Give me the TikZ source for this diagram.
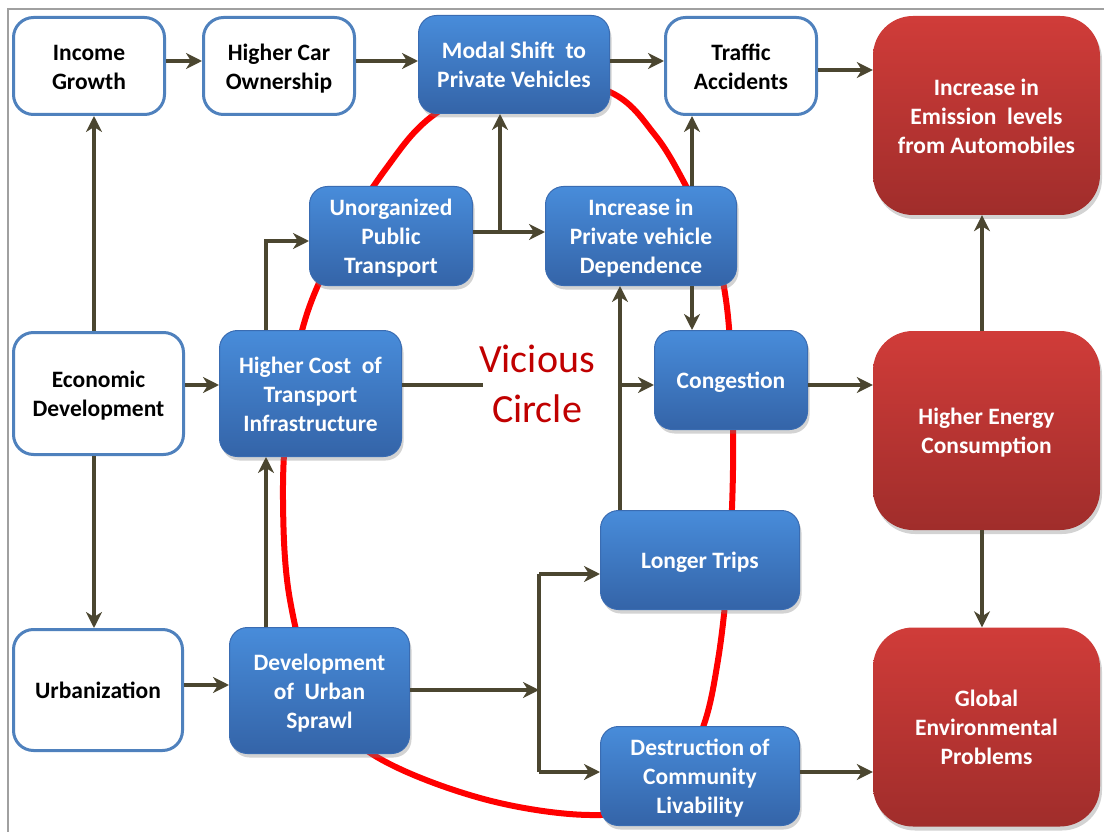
\documentclass[tikz,border=0pt]{standalone}
\usepackage{fontspec}
\setmainfont{Carlito}
\usetikzlibrary{arrows.meta,shadows}
\definecolor{arrc}{RGB}{75,70,48}
\definecolor{wbord}{RGB}{79,129,189}
\definecolor{btop}{RGB}{72,140,218}
\definecolor{bbot}{RGB}{52,100,168}
\definecolor{bbord}{RGB}{58,108,178}
\definecolor{rtop}{RGB}{208,60,57}
\definecolor{rbot}{RGB}{160,45,43}
\definecolor{vcred}{RGB}{192,0,0}
\definecolor{framegray}{RGB}{160,160,160}
\newcommand{\boxtxt}[1]{\raisebox{-3pt}[\height][\depth]{\begin{tabular}{@{}c@{}}#1\end{tabular}}}
\begin{document}
\begin{tikzpicture}[x=1pt,y=-1pt,
  box/.style={rounded corners=18pt, align=center, inner sep=0pt,
    font=\bfseries\fontsize{23.5}{29}\selectfont},
  wbox/.style={box, draw=wbord, line width=3pt, fill=white, text=black, rounded corners=20pt},
  bbox/.style={box, draw=bbord, line width=1pt, top color=btop, bottom color=bbot, text=white,
    drop shadow={shadow xshift=2pt, shadow yshift=-4pt, opacity=0.35}},
  rbox/.style={box, top color=rtop, bottom color=rbot, text=white, rounded corners=40pt,
    minimum width=227pt, minimum height=199pt,
    drop shadow={shadow xshift=2pt, shadow yshift=-4pt, opacity=0.35}},
  conn/.style={draw=arrc, line width=4pt},
  arr/.style={conn, -{Stealth[length=16pt,width=16pt,inset=5pt]}},
  loop/.style={draw=red, line width=6pt},
  vctext/.style={text=vcred, font=\fontsize{40}{50}\selectfont, inner sep=0pt, anchor=base}
]
\useasboundingbox (0,0) rectangle (1104,832);
\draw[framegray, line width=1.5pt] (8,832) -- (8,9) -- (1104,9);

% vicious circle loop
\draw[loop] plot[smooth cycle, tension=0.6] coordinates {
  (520,72) (610,92) (655,135) (686,186) (712,240) (726,300) (732,380)
  (733,470) (729,560) (718,660) (700,735) (660,800) (590,815) (480,798) (372,754)
  (318,695) (290,600) (283,500) (288,410) (305,320) (338,245) (385,170) (435,114)};

% nodes
\node[wbox, minimum width=151pt, minimum height=97pt] (inc) at (89,66) {\boxtxt{Income\\Growth}};
\node[wbox, minimum width=151pt, minimum height=97pt] (car) at (279,66) {\boxtxt{Higher Car\\Ownership}};
\node[bbox, minimum width=191pt, minimum height=98pt] (mod) at (514,64.5) {\boxtxt{Modal Shift\ \ to\\Private Vehicles}};
\node[wbox, minimum width=151pt, minimum height=97pt] (tra) at (741,66) {\boxtxt{Traffic\\Accidents}};
\node[rbox] (emi) at (986.5,115.5) {\boxtxt{Increase in\\Emission\ \ levels\\from Automobiles}};
\node[bbox, minimum width=163pt, minimum height=99pt] (unp) at (391,236) {\boxtxt{Unorganized\\Public\\Transport}};
\node[bbox, minimum width=191pt, minimum height=99pt] (ipv) at (641,236) {\boxtxt{Increase in\\Private vehicle\\Dependence}};
\node[wbox, minimum width=170pt, minimum height=122pt] (eco) at (98.5,393.5) {\boxtxt{Economic\\Development}};
\node[bbox, minimum width=182pt, minimum height=126pt] (hct) at (310.5,393.5) {\boxtxt{Higher Cost\ \ of\\Transport\\Infrastructure}};
\node[bbox, minimum width=153pt, minimum height=99pt] (con) at (731,380) {\boxtxt{Congestion}};
\node[rbox] (ene) at (986.5,430.5) {\boxtxt{Higher Energy\\Consumption}};
\node[bbox, minimum width=199pt, minimum height=99pt] (lgt) at (700,560) {\boxtxt{Longer Trips}};
\node[wbox, minimum width=169pt, minimum height=121pt] (urb) at (98,690) {\boxtxt{Urbanization}};
\node[bbox, minimum width=180pt, minimum height=126pt] (spr) at (319.5,690.5) {\boxtxt{Development\\of\ \ Urban\\Sprawl}};
\node[bbox, minimum width=199pt, minimum height=99pt] (des) at (700,776) {\boxtxt{Destruction of\\Community\\Livability}};
\node[rbox] (glo) at (986.5,727) {\boxtxt{Global\\Environmental\\Problems}};

\node[vctext] (vc1) at (537,372) {Vicious};
\node[vctext] (vc2) at (537,422) {Circle};

% helper coordinates
\coordinate (r61) at (0,61);
\coordinate (r70) at (0,70);
\coordinate (r232) at (0,232);
\coordinate (r241) at (0,241);
\coordinate (r385) at (0,385);
\coordinate (r574) at (0,574);
\coordinate (r685) at (0,685);
\coordinate (r690) at (0,690);
\coordinate (r772) at (0,772);
\coordinate (c94) at (94,0);
\coordinate (c266) at (266,0);
\coordinate (c500) at (500,0);
\coordinate (c539) at (539,0);
\coordinate (c620) at (620,0);
\coordinate (c692) at (692,0);
\coordinate (c982) at (982,0);
\coordinate (vcl) at (483,385);

% connectors
\draw[arr] (inc.east |- r61) -- (car.west |- r61);
\draw[arr] (car.east |- r61) -- (mod.west |- r61);
\draw[arr] (mod.east |- r61) -- (tra.west |- r61);
\draw[arr] (tra.east |- r70) -- (emi.west |- r70);
\draw[arr] (eco.north -| c94) -- (inc.south -| c94);
\draw[arr] (eco.south -| c94) -- (urb.north -| c94);
\draw[arr] (eco.east |- r385) -- (hct.west |- r385);
\draw[arr] (urb.east |- r685) -- (spr.west |- r685);
\draw[arr] (spr.north -| c266) -- (hct.south -| c266);
\draw[arr] (hct.north -| c266) |- (unp.west |- r241);
\draw[arr] (unp.east |- r232) -- (ipv.west |- r232);
\draw[arr] (c500 |- r232) -- (mod.south -| c500);
\draw[arr] (ipv.north -| c692) -- (tra.south -| c692);
\draw[arr] (ipv.south -| c692) -- (con.north -| c692);
\draw[arr] (lgt.north -| c620) -- (ipv.south -| c620);
\draw[arr] (c620 |- r385) -- (con.west |- r385);
\draw[arr] (con.east |- r385) -- (ene.west |- r385);
\draw[conn] (hct.east |- r385) -- (vcl);
\draw[arr] (spr.east |- r690) -- (c539 |- r690);
\draw[conn] (c539 |- r574) -- (c539 |- r772);
\draw[arr] (c539 |- r574) -- (lgt.west |- r574);
\draw[arr] (c539 |- r772) -- (des.west |- r772);
\draw[arr] (des.east |- r772) -- (glo.west |- r772);
\draw[arr] (ene.north -| c982) -- (emi.south -| c982);
\draw[arr] (ene.south -| c982) -- (glo.north -| c982);
\end{tikzpicture}
\end{document}
